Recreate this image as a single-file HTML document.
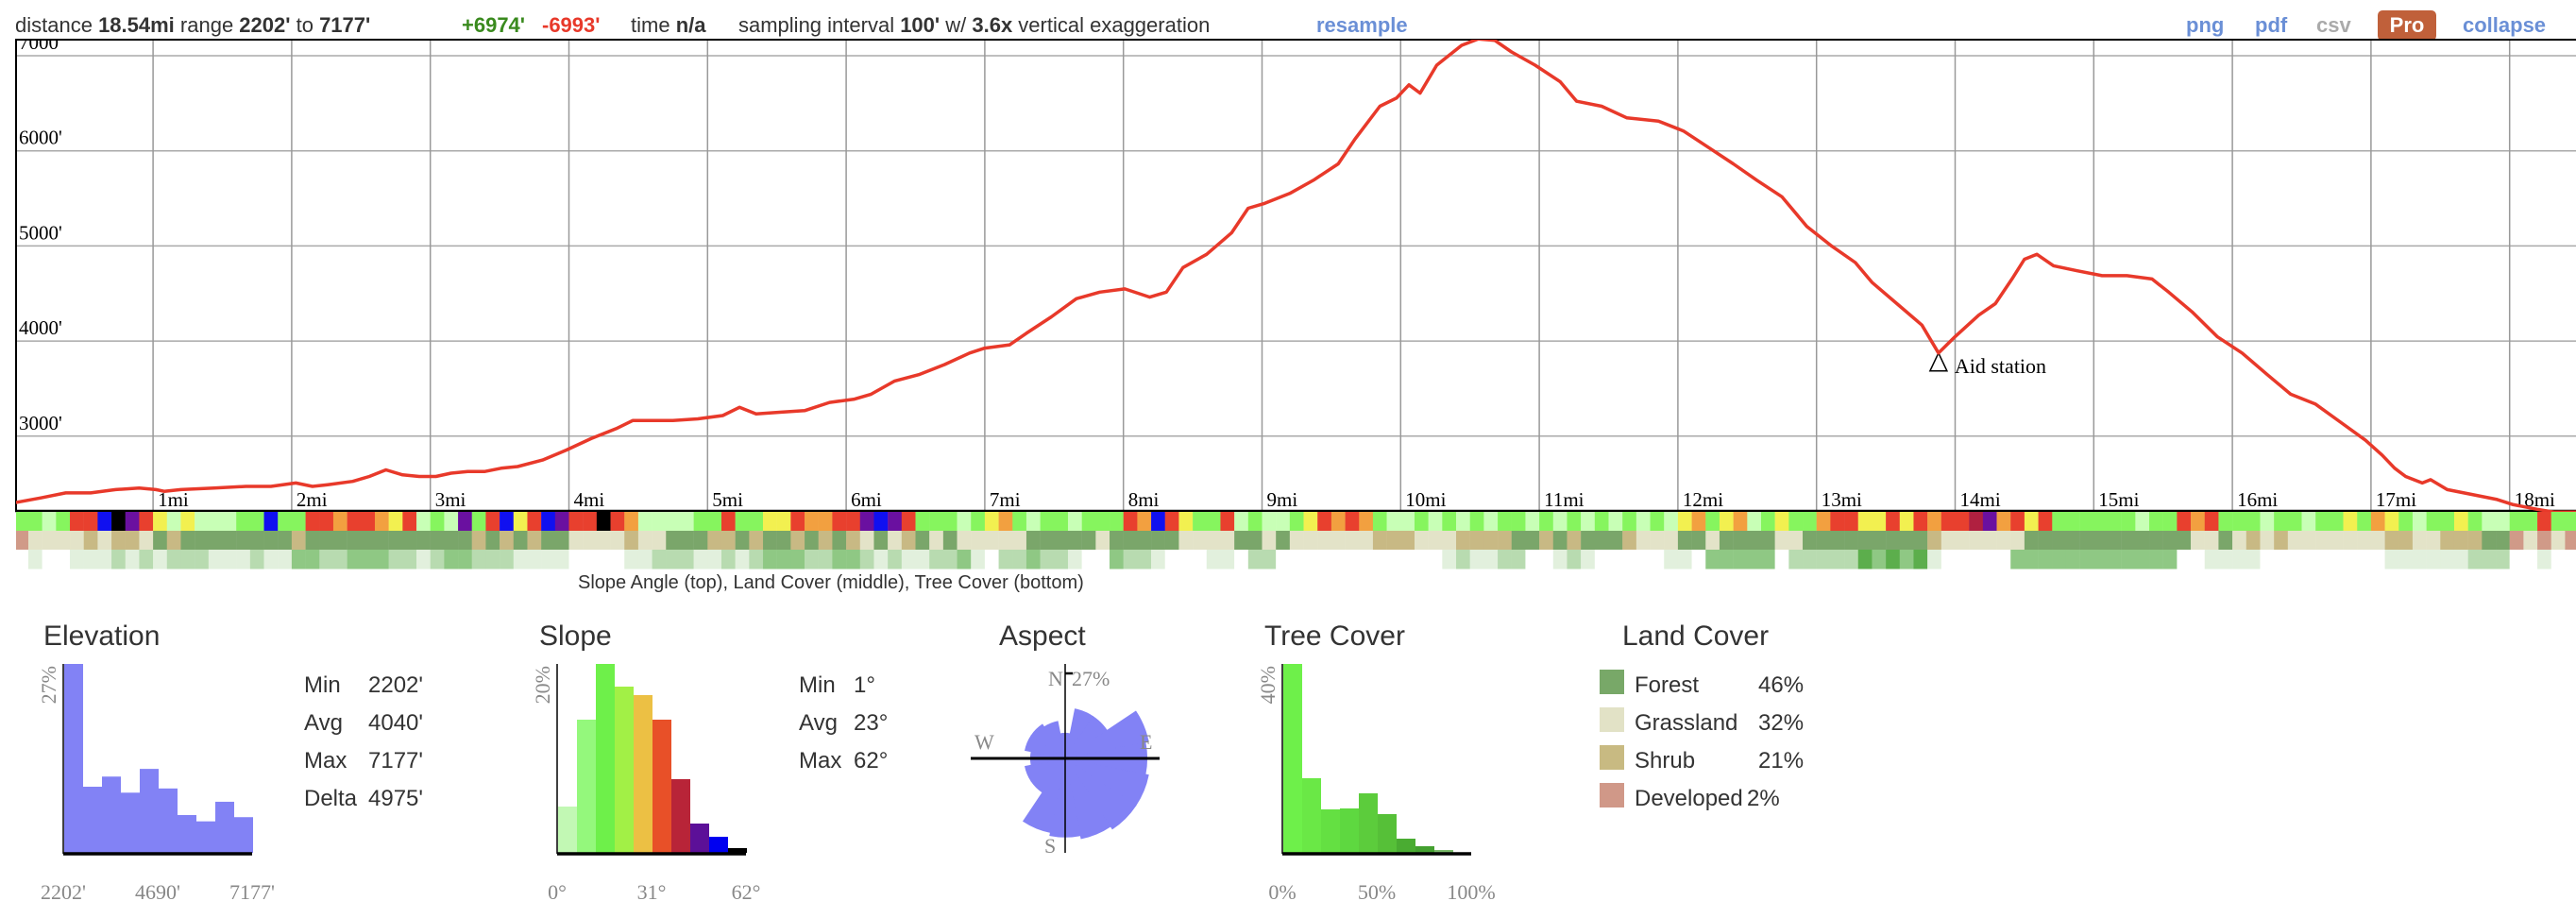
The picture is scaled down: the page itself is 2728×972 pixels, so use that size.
<!DOCTYPE html>
<html><head><meta charset="utf-8">
<style>
html,body{margin:0;padding:0;background:#fff;}
svg{display:block;}
.sans{font-family:"Liberation Sans",sans-serif;}
.serif{font-family:"Liberation Serif",serif;}
</style></head>
<body>
<svg id="root" width="2728" height="972" viewBox="0 0 2728 972">
  <!-- header -->
  <g class="sans" font-size="22" fill="#333">
    <text x="16" y="34">distance <tspan font-weight="bold">18.54mi</tspan> range <tspan font-weight="bold">2202'</tspan> to <tspan font-weight="bold">7177'</tspan></text>
    <text x="489" y="34" fill="#3a8a1e" font-weight="bold">+6974'</text>
    <text x="574" y="34" fill="#e8392a" font-weight="bold">-6993'</text>
    <text x="668" y="34">time <tspan font-weight="bold">n/a</tspan></text>
    <text x="782" y="34">sampling interval <tspan font-weight="bold">100'</tspan> w/ <tspan font-weight="bold">3.6x</tspan> vertical exaggeration</text>
    <text x="1394" y="34" fill="#6a8fd6" font-weight="bold">resample</text>
    <text x="2315" y="34" fill="#6a8fd6" font-weight="bold">png</text>
    <text x="2388" y="34" fill="#6a8fd6" font-weight="bold">pdf</text>
    <text x="2453" y="34" fill="#aaa" font-weight="bold">csv</text>
    <rect x="2518" y="11" width="62" height="32" rx="5" fill="#c0603a"/>
    <text x="2549" y="34" fill="#fff" font-weight="bold" text-anchor="middle">Pro</text>
    <text x="2608" y="34" fill="#6a8fd6" font-weight="bold">collapse</text>
  </g>
  <defs><clipPath id="plotclip"><rect x="17" y="42" width="2711" height="500"/></clipPath>
  <clipPath id="stripclip"><rect x="17" y="541" width="2711" height="62"/></clipPath></defs>
  <g id="grid"></g>
  <g id="plot" clip-path="url(#plotclip)"></g>
  <g id="strips" clip-path="url(#stripclip)"></g>
  <text x="612" y="623" class="sans" font-size="20" fill="#333">Slope Angle (top), Land Cover (middle), Tree Cover (bottom)</text>
  <g id="bottom"></g>
</svg>
<script>
// ---- profile data ----
const profileMiles = [0,0.19,0.37,0.55,0.73,0.90,1.02,1.08,1.20,1.44,1.67,1.85,2.03,2.15,2.26,2.44,2.56,2.68,2.80,2.92,3.04,3.15,3.27,3.39,3.51,3.63,3.81,3.98,4.16,4.34,4.46,4.58,4.75,4.93,5.11,5.23,5.35,5.52,5.70,5.88,6.06,6.18,6.35,6.53,6.71,6.89,7.00,7.18,7.30,7.48,7.66,7.83,8.01,8.19,8.31,8.43,8.60,8.78,8.90,9.02,9.20,9.37,9.55,9.67,9.85,9.97,10.06,10.14,10.26,10.44,10.56,10.68,10.80,10.97,11.15,11.27,11.45,11.63,11.86,12.04,12.22,12.40,12.57,12.75,12.93,13.11,13.28,13.40,13.58,13.76,13.88,14.00,14.17,14.29,14.41,14.50,14.59,14.71,14.88,15.06,15.24,15.42,15.54,15.71,15.89,16.07,16.25,16.42,16.60,16.78,16.96,17.08,17.17,17.25,17.37,17.43,17.55,17.73,17.91,18.02,18.20,18.32,18.54];
const profileFeet = [2300,2351,2403,2403,2438,2455,2438,2420,2438,2455,2472,2472,2507,2472,2490,2524,2576,2645,2593,2576,2576,2611,2628,2628,2662,2680,2749,2853,2974,3078,3164,3164,3164,3182,3216,3303,3234,3251,3268,3355,3389,3441,3580,3649,3753,3874,3926,3960,4081,4254,4445,4514,4548,4462,4514,4773,4912,5137,5396,5448,5552,5690,5863,6123,6469,6555,6694,6607,6901,7109,7177,7161,7040,6901,6728,6521,6469,6348,6313,6209,6036,5863,5690,5517,5206,4998,4825,4618,4393,4168,3874,4047,4272,4393,4652,4860,4912,4791,4739,4687,4687,4652,4514,4306,4047,3874,3649,3441,3337,3147,2957,2801,2663,2576,2507,2542,2438,2386,2334,2282,2230,2202,2202];
const yTicks = [7000,6000,5000,4000,3000];
const yTickLabels = ["7000'","6000'","5000'","4000'","3000'"];
const xTicks = [1,2,3,4,5,6,7,8,9,10,11,12,13,14,15,16,17,18];
const markerMile = [13.88];
const markerFeet = [3874];
const markerLabel = ["Aid station"];
// strips: one char per 0.1 mi
const slopeStrip = "gglgrrbkpryly"+"lllggbggrrorroyrlglpgrbyrbprrkrollllggrggyyroorrpbprggglgyoglgglgggrobryggrlgll"+"gyrorogl"+"lglglglggl"+"glglglglgl"+"yogyolgygg"+"orryyryror"+"rdporyrggg"+"ggglggrorg"+"gglgglggyg"+"oyglggygll"+"ggrggg";
const landStrip = "DGGGGSGSSGFSFFFFFFFFSFFFFFFFFFFFFSFSFSFFGGGGSGGFFFSSFSFFSFSFSGFGSFGFGGGGGFFFFFGFFFFFGGGGFFGF"+"GGGGGGSS"+"SGGGSSSSFF"+"SFSFFFSGGG"+"FFGFFFFGGF"+"FFFFFFFFSG"+"GGGGGFFFFF"+"FFFFFFFGGF"+"GSGSGGGGGG"+"GSSGGSSSFF"+"DGDGDG";
const treeStrip = "0100111212122211121133223332212332221111000011222112123332233212112231022322100322100011022"+"00000000"+"0000121122"+"0012100000"+"1103333302"+"2222434341"+"0000033333"+"3333333001"+"1110000000"+"0011111122"+"200100";
// histograms
const elevHist = [27,9.45,10.9,8.6,12.0,9.2,5.4,4.5,7.3,5.1];
const elevTickLabels = ["2202'","4690'","7177'"];
const slopeHist = [4.9,14.1,20,17.6,16.7,14.1,7.8,3.1,1.7,0.5];
const slopeTickLabels = ["0°","31°","62°"];
const treeHist = [40,15.8,9.2,9.4,12.6,8.2,3,1.4,0.6,0];
const treeTickLabels = ["0%","50%","100%"];
const aspectDirs = ["N","NNE","NE","ENE","E","ESE","SE","SSE","S","SSW","SW","WSW","W","WNW","NW","NNW"];
const aspectPct = [8,16,16,27,26,27,27,26,25,24,13,13,11,13,13,12];
const landNames = ["Forest","Grassland","Shrub","Developed"];
const landPct = ["46%","32%","21%","2%"];

const NS="http://www.w3.org/2000/svg";
function mk(tag, attrs, parent){const e=document.createElementNS(NS,tag);for(const k in attrs)e.setAttribute(k,attrs[k]);parent.appendChild(e);return e;}
const X = m => 15.3 + 146.8*m;
const Y = f => 59 + (7000-f)*0.1007;
const grid=document.getElementById('grid'), plot=document.getElementById('plot'), strips=document.getElementById('strips'), bottom=document.getElementById('bottom');

// gridlines
yTicks.forEach((t,i)=>{
  const l=mk('line',{x1:17,x2:2728,y1:Y(t),y2:Y(t),stroke:'#aaa','stroke-width':1.5},grid);
  
  
});
xTicks.forEach(t=>{
  const l=mk('line',{x1:X(t),x2:X(t),y1:42,y2:541,stroke:'#999','stroke-width':1.5},grid);
  
  
  const tx=mk('text',{x:X(t)+5,y:536,'font-size':21,class:'serif',fill:'#000'},grid);
  tx.textContent=t+'mi';
  
  
});
yTicks.forEach((t,i)=>{
  const tx=mk('text',{x:20,y:Y(t)-7,'font-size':21,class:'serif',fill:'#000'},plot);
  tx.textContent=yTickLabels[i];
  
  
});
// axes
const ax1=mk('line',{x1:17,x2:17,y1:42,y2:542,stroke:'#000','stroke-width':2},grid);


const ax2=mk('line',{x1:16,x2:2728,y1:42,y2:42,stroke:'#000','stroke-width':2},grid);


const ax3=mk('line',{x1:16,x2:2728,y1:541,y2:541,stroke:'#000','stroke-width':2.5},grid);



// profile line
const pts=profileMiles.map((m,i)=>X(m).toFixed(1)+','+Y(profileFeet[i]).toFixed(1)).join(' ');
const pl=mk('polyline',{points:pts,fill:'none',stroke:'#e8392a','stroke-width':3.5,'stroke-linejoin':'round'},plot);



// marker
markerMile.forEach((m,i)=>{
  const cx=X(m), cy=Y(markerFeet[i]);
  const tri=mk('polygon',{points:`${cx},${cy} ${cx-9},${cy+19} ${cx+9},${cy+19}`,fill:'#fff',stroke:'#000','stroke-width':1.5},grid);
  
  
  const t=mk('text',{x:cx+17,y:cy+21,'font-size':22,class:'serif',fill:'#000'},grid);
  t.textContent=markerLabel[i];
  
  
});

// strips
const slopeCol={g:'#86f55e',l:'#c8ffb6',y:'#f2f050',o:'#f2a040',r:'#e8402e',d:'#b02040',p:'#6a10a0',b:'#1010f0',k:'#000'};
const landCol={F:'#7aa66a',G:'#e3e3c8',S:'#c8b984',D:'#d09a88'};
const treeCol={'0':'#ffffff','1':'#e2f0dd','2':'#b8dbb0','3':'#8fc884','4':'#5cae4c'};
function drawStrip(str,cols,y0,name){
  for(let i=0;i<str.length;i++){
    const r=mk('rect',{x:X(i*0.1),y:y0,width:14.9,height:20.5,fill:cols[str[i]]},strips);
    
    
  }
}
drawStrip(slopeStrip,slopeCol,542,'slope-strip-cell');
drawStrip(landStrip,landCol,562,'landcover-strip-cell');
drawStrip(treeStrip,treeCol,582,'treecover-strip-cell');

// bottom panels
function title(x,t,name){const e=mk('text',{x:x,y:683,'font-size':30,class:'sans',fill:'#333'},bottom);e.textContent=t;
  
  }
function hist(x0,vals,maxv,colors,maxLabel,ticks,name){
  const bw=20, base=903, h=200;
  vals.forEach((v,i)=>{
    const bh=v/maxv*h;
    const r=mk('rect',{x:x0+1+i*bw,y:base-bh,width:bw,height:bh,fill:colors[i]},bottom);
    
    
  });
  const a=mk('line',{x1:x0,x2:x0,y1:703,y2:904,stroke:'#000','stroke-width':1.5},bottom);
  
  
  const b=mk('line',{x1:x0,x2:x0+200,y1:904,y2:904,stroke:'#000','stroke-width':3.5},bottom);
  
  
  const ml=mk('text',{x:0,y:0,'font-size':22,class:'serif',fill:'#888','text-anchor':'end',transform:`translate(${x0-8},705) rotate(-90)`},bottom);
  ml.textContent=maxLabel;
  
  
  ticks.forEach((t,i)=>{
    const tx=mk('text',{x:x0+i*100,y:952,'font-size':22,class:'serif',fill:'#888','text-anchor':'middle'},bottom);
    tx.textContent=t;
    
    
  });
}
function stats(x1,x2,rows,name){
  rows.forEach((r,i)=>{
    const a=mk('text',{x:x1,y:733+i*40,'font-size':24,class:'sans',fill:'#333'},bottom);a.textContent=r[0];
    
    
    const b=mk('text',{x:x2,y:733+i*40,'font-size':24,class:'sans',fill:'#333'},bottom);b.textContent=r[1];
    
    
  });
}
title(46,'Elevation','elevation-title');
hist(67,elevHist,27,Array(10).fill('#8282f5'),'27%',elevTickLabels,'elevation-hist');
stats(322,390,[['Min',"2202'"],['Avg',"4040'"],['Max',"7177'"],['Delta',"4975'"]],'elevation');

title(571,'Slope','slope-title');
hist(590,slopeHist,20,['#c2f8b4','#94f87c','#6ef04a','#a2f046','#ecc044','#e85028','#b82438','#5c1098','#0000f0','#000'],'20%',slopeTickLabels,'slope-hist');
stats(846,904,[['Min','1°'],['Avg','23°'],['Max','62°']],'slope');

title(1058,'Aspect','aspect-title');
const cx=1128, cy=803, R=90;
aspectPct.forEach((v,i)=>{
  const r=v/27*R, a0=(i*22.5-11.25-90)*Math.PI/180, a1=(i*22.5+11.25-90)*Math.PI/180;
  const p=mk('path',{d:`M${cx},${cy} L${cx+r*Math.cos(a0)},${cy+r*Math.sin(a0)} A${r},${r} 0 0 1 ${cx+r*Math.cos(a1)},${cy+r*Math.sin(a1)} Z`,fill:'#8282f5',stroke:'#8282f5','stroke-width':0.8},bottom);
  
  
});
const av=mk('line',{x1:cx,x2:cx,y1:703,y2:903,stroke:'#000','stroke-width':1.5},bottom);


const ah=mk('line',{x1:1028,x2:1228,y1:cy,y2:cy,stroke:'#000','stroke-width':3},bottom);


const at=mk('line',{x1:cx,x2:cx+8,y1:713,y2:713,stroke:'#000','stroke-width':2.5},bottom);


[['N',1110,726],['27%',1135,726],['W',1032,793],['E',1207,793],['S',1106,903]].forEach(d=>{
  const t=mk('text',{x:d[1],y:d[2],'font-size':22,class:'serif',fill:'#888'},bottom);t.textContent=d[0];
  
  
});

title(1339,'Tree Cover','tree-cover-title');
hist(1358,treeHist,40,['#6ef04a','#6ae846','#64e042','#5ed840','#5ccc3c','#56c038','#4aac32','#44a030','#78b868','#40a030'],'40%',treeTickLabels,'tree-hist');

title(1718,'Land Cover','land-cover-title');
const landCols=['#78a868','#e2e2c6','#c8ba82','#d09888'];
landNames.forEach((n,i)=>{
  const r=mk('rect',{x:1694,y:709+i*40,width:26,height:26,fill:landCols[i]},bottom);
  
  
  const t=mk('text',{x:1731,y:733+i*40,'font-size':24,class:'sans',fill:'#333'},bottom);t.textContent=n;
  
  
  const p=mk('text',{x:i==3?1850:1862,y:733+i*40,'font-size':24,class:'sans',fill:'#333'},bottom);p.textContent=landPct[i];
  
  
});
</script>
</body></html>
